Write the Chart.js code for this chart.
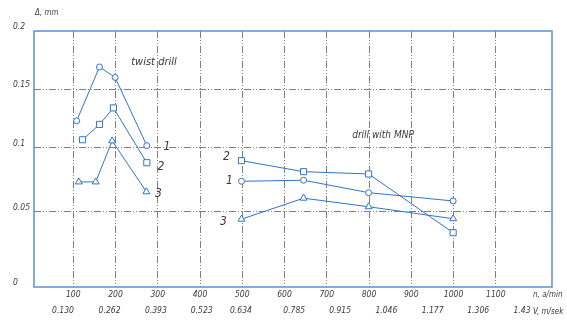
<!DOCTYPE html>
<html>
<head>
<meta charset="utf-8">
<script src="https://cdn.jsdelivr.net/npm/chart.js@4/dist/chart.umd.min.js"></script>
<style>
  html, body { margin: 0; padding: 0; background: #fff; }
  canvas { display: block; }
</style>
</head>
<body>
<canvas id="c" width="567" height="320"></canvas>
<script>
// Axis ticks: spindle speed n (rev/min), cutting speed V (m/s), wear Δ (mm)
const nTicks = [100, 200, 300, 400, 500, 600, 700, 800, 900, 1000, 1100];
const vTicks = ['0.130', '0.262', '0.393', '0.523', '0.634', '0.785', '0.915', '1.046', '1.177', '1.306', '1.43'];
const deltaTicks = [0, 0.05, 0.1, 0.15, 0.2];

// Twist drill, curves 1-3
const twistN1 = [108, 162, 199, 274];
const twistD1 = [0.123, 0.169, 0.160, 0.102];
const twistN2 = [122, 162, 195, 274];
const twistD2 = [0.107, 0.120, 0.134, 0.0885];
const twistN3 = [113, 153, 192, 273];
const twistD3 = [0.0735, 0.0735, 0.106, 0.0658];

// Drill with MNP (indexable inserts), curves 1-3
const mnpN = [498, 645, 799, 999];
const mnpD1 = [0.074, 0.0748, 0.0651, 0.0586];
const mnpD2 = [0.0901, 0.0815, 0.0797, 0.0362];
const mnpD3 = [0.0452, 0.0608, 0.0541, 0.0455];

const BLUE = '#2f74c9';
const FRAME = '#5b8fd8';
const GRID = '#7f7f7f';
const TEXT = '#3a3a3a';
const FAMILY = '"Liberation Sans Narrow", "DejaVu Sans Condensed", "Liberation Sans", sans-serif';

// Linear scale whose gridline spacing follows the hand-ruled axis of the drawing
class PiecewiseScale extends Chart.LinearScale {
  _frac(value) {
    const v = this.options.anchorValues, f = this.options.anchorFractions;
    if (value <= v[0]) return f[0] + (value - v[0]) * (f[1] - f[0]) / (v[1] - v[0]);
    for (let k = 1; k < v.length; k++) {
      if (value <= v[k]) return f[k - 1] + (value - v[k - 1]) * (f[k] - f[k - 1]) / (v[k] - v[k - 1]);
    }
    const n = v.length - 1;
    return f[n] + (value - v[n]) * (f[n] - f[n - 1]) / (v[n] - v[n - 1]);
  }
  getPixelForValue(value) {
    return value === null ? NaN : this.getPixelForDecimal(this._frac(value));
  }
  getValueForPixel(pixel) {
    const d = this.getDecimalForPixel(pixel);
    const v = this.options.anchorValues, f = this.options.anchorFractions;
    for (let k = 1; k < v.length; k++) {
      if (d <= f[k] || k === v.length - 1) return v[k - 1] + (d - f[k - 1]) * (v[k] - v[k - 1]) / (f[k] - f[k - 1]);
    }
  }
}
PiecewiseScale.id = 'piecewise';
PiecewiseScale.defaults = Chart.LinearScale.defaults;
Chart.register(PiecewiseScale);

const pts = (xs, ys) => xs.map((x, i) => ({ x, y: ys[i] }));

function series(xs, ys, style, radius) {
  return {
    data: pts(xs, ys),
    borderColor: BLUE,
    borderWidth: 1,
    backgroundColor: '#fff',
    pointStyle: style,
    pointRadius: radius,
    pointHoverRadius: radius,
    pointBorderWidth: 1,
    pointBorderColor: BLUE,
    pointBackgroundColor: '#fff',
    tension: 0,
    fill: false,
    xAxisID: 'x',
    yAxisID: 'y'
  };
}

const datasets = [
  series(twistN1, twistD1, 'circle', 3),
  series(twistN2, twistD2, 'rect', 4.3),
  series(twistN3, twistD3, 'triangle', 4),
  series(mnpN, mnpD1, 'circle', 3),
  series(mnpN, mnpD2, 'rect', 4.3),
  series(mnpN, mnpD3, 'triangle', 4)
];

// Curve numbers placed next to an end point of each curve
const curveTags = [
  { ds: 0, i: 3, text: '1', dx: 20, dy: 1 },
  { ds: 1, i: 3, text: '2', dx: 14, dy: 4 },
  { ds: 2, i: 3, text: '3', dx: 12, dy: 2 },
  { ds: 3, i: 0, text: '1', dx: -12, dy: 0 },
  { ds: 4, i: 0, text: '2', dx: -15, dy: -4 },
  { ds: 5, i: 0, text: '3', dx: -18, dy: 3 }
];

const annotate = {
  id: 'annotate',
  beforeDatasetsDraw(chart) {
    const { ctx, chartArea: a } = chart;
    ctx.save();
    ctx.strokeStyle = FRAME;
    ctx.lineWidth = 1.5;
    ctx.strokeRect(a.left, a.top, a.right - a.left, a.bottom - a.top);
    ctx.restore();
  },
  afterDatasetsDraw(chart) {
    const { ctx, chartArea: a, scales } = chart;
    ctx.save();
    ctx.fillStyle = TEXT;
    ctx.textBaseline = 'middle';

    ctx.textAlign = 'center';
    ctx.font = 'italic 12px ' + FAMILY;
    curveTags.forEach(t => {
      const p = chart.getDatasetMeta(t.ds).data[t.i];
      ctx.fillText(t.text, p.x + t.dx, p.y + t.dy);
    });

    ctx.font = 'italic 11px ' + FAMILY;
    ctx.fillText('twist drill', scales.x.getPixelForValue(291), scales.y.getPixelForValue(0.173));
    ctx.font = 'italic 10px ' + FAMILY;
    ctx.fillText('drill with MNP', scales.x.getPixelForValue(833), scales.y.getPixelForValue(0.111));

    ctx.textAlign = 'left';
    ctx.font = 'italic 8px ' + FAMILY;
    ctx.fillText('Δ, mm', a.left + 1, a.top - 18);

    ctx.font = 'italic 8px ' + FAMILY;
    ctx.fillText('n, a/min', a.right - 19, scales.x.top + 8);
    ctx.fillText('V, m/sek', a.right - 19, scales.x2.top + 8.5);
    ctx.restore();
  }
};

const tickFont = { family: FAMILY, size: 8.5, style: 'italic' };

new Chart(document.getElementById('c'), {
  type: 'line',
  data: { datasets },
  plugins: [annotate],
  options: {
    responsive: false,
    animation: false,
    devicePixelRatio: 1,
    layout: { padding: { top: 31, right: 15, left: 13, bottom: 0 } },
    plugins: { legend: { display: false }, tooltip: { enabled: false } },
    scales: {
      x: {
        type: 'linear',
        position: 'bottom',
        min: 7,
        max: 1233,
        afterBuildTicks: s => { s.ticks = nTicks.map(v => ({ value: v })); },
        afterFit: s => { s.height = 16; },
        grid: { display: true, drawTicks: false, color: GRID, lineWidth: 1 },
        border: { display: false, dash: [7, 2, 1, 2, 1, 2] },
        ticks: {
          autoSkip: false, maxRotation: 0, padding: 3,
          color: TEXT, font: tickFont,
          callback: v => String(v)
        }
      },
      x2: {
        type: 'linear',
        position: 'bottom',
        min: 0.048,
        max: 1.515,
        afterBuildTicks: s => { s.ticks = vTicks.map(v => ({ value: parseFloat(v) })); },
        afterFit: s => { s.height = 17; },
        grid: { display: false, drawTicks: false },
        border: { display: false },
        ticks: {
          autoSkip: false, maxRotation: 0, padding: 3,
          color: TEXT, font: tickFont,
          callback: (v, i) => vTicks[i]
        }
      },
      y: {
        type: 'piecewise',
        position: 'left',
        min: 0,
        max: 0.2,
        anchorValues: deltaTicks,
        anchorFractions: [0, 0.293, 0.543, 0.7734, 1],
        afterBuildTicks: s => { s.ticks = deltaTicks.map(v => ({ value: v })); },
        afterFit: s => { s.width = 21; },
        grid: {
          drawTicks: false, lineWidth: 1,
          color: c => (c.tick && (c.tick.value === 0 || c.tick.value === 0.2)) ? 'rgba(0,0,0,0)' : GRID
        },
        border: { display: false, dash: [7, 2, 1, 2, 1, 2] },
        ticks: {
          autoSkip: false, crossAlign: 'far', padding: 0, labelOffset: -4,
          color: TEXT, font: tickFont,
          callback: v => String(v)
        }
      }
    }
  }
});
</script>
</body>
</html>
